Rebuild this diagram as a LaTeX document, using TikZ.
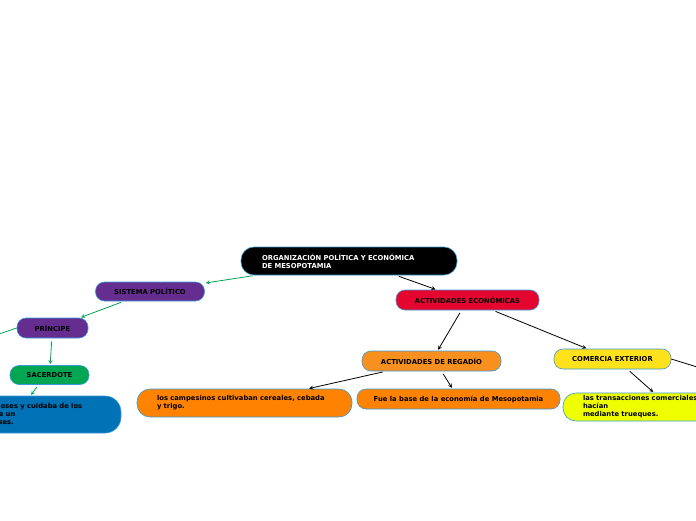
\documentclass[tikz,border=0pt]{standalone}
\usepackage{fontspec}
\setmainfont{DejaVu Sans}
\usetikzlibrary{positioning}
\definecolor{rootc}{HTML}{000000}
\definecolor{purp}{HTML}{662D91}
\definecolor{grn}{HTML}{00A651}
\definecolor{blu}{HTML}{0072B5}
\definecolor{redc}{HTML}{E4062F}
\definecolor{orgA}{HTML}{F7901E}
\definecolor{orgB}{HTML}{FF8200}
\definecolor{yelA}{HTML}{FFE21B}
\definecolor{yelB}{HTML}{F0FF00}
\definecolor{rim}{HTML}{3A9AD9}
\definecolor{garrow}{HTML}{00A651}
\tikzset{
  topic/.style={draw=rim,line width=0.6pt,rounded corners=9pt,inner sep=0pt,
    font=\bfseries\fontsize{6.8}{8}\selectfont,align=left,text=black},
  garr/.style={->,>=stealth,draw=garrow,line width=0.8pt,shorten <=3pt,shorten >=1pt},
  barr/.style={->,>=stealth,draw=black,line width=0.8pt,shorten <=3pt,shorten >=1pt}
}
\begin{document}
\begin{tikzpicture}[x=1pt,y=-1pt]
\useasboundingbox (0,0) rectangle (696,520);
\node[topic,fill=rootc,text=white,minimum width=216pt,minimum height=28pt,rounded corners=13pt,text width=174pt] (root) at (349,261) {ORGANIZACIÓN POLÍTICA Y ECONÓMICA\\DE MESOPOTAMIA};
\node[topic,fill=purp,minimum width=109pt,minimum height=19pt] (sistema) at (150,291.5) {SISTEMA POLÍTICO};
\node[topic,fill=purp,minimum width=71pt,minimum height=20pt] (principe) at (52.5,328) {PRÍNCIPE};
\node[topic,fill=grn,minimum width=79pt,minimum height=19pt] (sacerdote) at (49.5,375) {SACERDOTE};
\node[topic,fill=blu,minimum width=251pt,minimum height=37pt,rounded corners=16pt,text width=182pt] (dioses) at (-4.5,414.5) {Se comunicaba con los dioses y cuidaba de los\\templos y sus bienes. Era un\\representante de los dioses.};
\node[topic,fill=redc,minimum width=143pt,minimum height=20pt] (economia) at (467.5,300) {ACTIVIDADES ECONÓMICAS};
\node[topic,fill=orgA,minimum width=139pt,minimum height=20pt] (regadio) at (431.5,361) {ACTIVIDADES DE REGADÍO};
\node[topic,fill=orgB,minimum width=215pt,minimum height=28pt,rounded corners=13pt,text width=175pt] (cultivo) at (244.5,403) {los campesinos cultivaban cereales, cebada\\y trigo.};
\node[topic,fill=orgB,minimum width=203pt,minimum height=20pt] (base) at (458.5,399) {Fue la base de la economía de Mesopotamia};
\node[topic,fill=yelA,minimum width=117pt,minimum height=20pt] (comercio) at (612.5,359) {COMERCIA EXTERIOR};
\node[topic,fill=yelB,minimum width=176pt,minimum height=28pt,rounded corners=13pt,text width=136pt] (trueque) at (651,407) {las transacciones comerciales se hacían\\mediante trueques.};
\coordinate (westend) at (-10,337);
\coordinate (eastend) at (710,371);
\draw[garr] (root) -- (sistema);
\draw[barr] ([xshift=47pt]root.south) -- ([xshift=-31pt]economia.north);
\draw[garr] (sistema) -- (principe);
\draw[garr] (principe) -- (sacerdote);
\draw[garr] ([xshift=-11pt]sacerdote.south) -- ([xshift=35pt]dioses.north);
\draw[draw=garrow,line width=0.8pt] (principe.west) -- (westend);
\draw[barr] (economia) -- (regadio);
\draw[barr] (economia) -- (comercio);
\draw[barr] (regadio) -- (cultivo);
\draw[barr] ([xshift=10pt]regadio.south) -- ([xshift=-6pt]base.north);
\draw[barr] ([xshift=15pt]comercio.south) -- ([xshift=3pt]trueque.north);
\draw[line width=0.8pt] (comercio.east) -- (eastend);
\end{tikzpicture}
\end{document}
